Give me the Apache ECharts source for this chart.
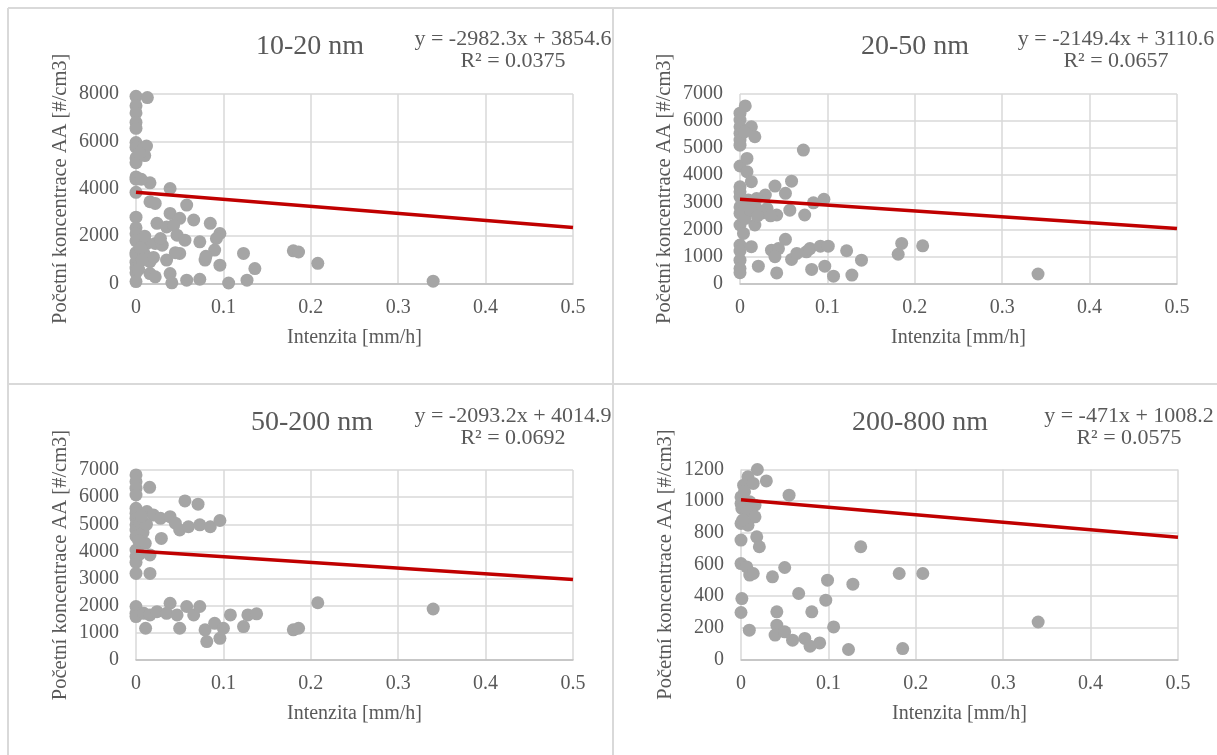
<!DOCTYPE html>
<html>
<head>
<meta charset="utf-8">
<script src="https://cdn.jsdelivr.net/npm/echarts@6/dist/echarts.min.js"></script>
<style>
  html, body { margin: 0; padding: 0; background: #ffffff; }
  #chart { width: 1217px; height: 755px; }
</style>
</head>
<body>
<div id="chart"></div>
<script>
// Rain intensity [mm/h] vs. particle number concentration for four size ranges

const panelTitles = ['10-20 nm', '20-50 nm', '50-200 nm', '200-800 nm'];

// Linear trend coefficients: y = slope * x + intercept
const trendSlope = [-2982.3, -2149.4, -2093.2, -471];
const trendIntercept = [3854.6, 3110.6, 4014.9, 1008.2];
const trendR2 = ['0.0375', '0.0657', '0.0692', '0.0575'];

// Y axis ranges per panel
const yMax = [8000, 7000, 7000, 1200];
const yStep = [2000, 1000, 1000, 200];

const xTicks = [0, 0.1, 0.2, 0.3, 0.4, 0.5];

// 10-20 nm
const x1 = [0, 0, 0, 0, 0, 0, 0, 0, 0, 0, 0, 0, 0, 0, 0, 0, 0, 0, 0, 0, 0, 0,
  0.013, 0.010, 0.008, 0.012, 0.016, 0.006, 0.039, 0.016, 0.022, 0.058, 0.039, 0.050, 0.066,
  0.024, 0.085, 0.035, 0.043, 0.047, 0.056, 0.096, 0.092, 0.073, 0.0125, 0.022, 0.030, 0.050,
  0.090, 0.009, 0.035, 0.079, 0.123, 0.180, 0.186, 0.208, 0.016, 0.096, 0.136, 0.016, 0.022,
  0.039, 0.041, 0.058, 0.073, 0.106, 0.127, 0.340, 0.005, 0.010, 0.020, 0.028, 0.045, 0.080,
  0.004, 0.007, 0.003];
const y1 = [7900, 7500, 7200, 6800, 6550, 5950, 5750, 5300, 5100, 4500, 4400, 3850, 2800, 2350, 2100, 1800, 1300, 1200, 900, 650, 450, 80,
  7850, 5400, 5700, 5800, 4250, 4400, 4010, 3450, 3380, 3310, 2960, 2750, 2680,
  2540, 2540, 2390, 2460, 2040, 1830, 2110, 1900, 1760, 1690, 1690, 1620, 1270,
  1410, 1270, 990, 990, 1270, 1380, 1330, 850, 920, 775, 630, 420, 280,
  420, 30, 140, 180, 20, 140, 100, 1500, 2000, 1100, 1900, 1300, 1150,
  5500, 1000, 600];

// 20-50 nm
const x2 = [0, 0, 0, 0, 0, 0, 0, 0, 0, 0, 0, 0, 0, 0, 0, 0, 0, 0,
  0.006, 0.013, 0.017, 0.0725, 0.008, 0.008, 0.013, 0.040, 0.059, 0.052, 0.029, 0.019, 0.0095,
  0.084, 0.096, 0.019, 0.031, 0.042, 0.057, 0.074, 0.017, 0.004, 0.013, 0.052, 0.036, 0.044,
  0.040, 0.059, 0.065, 0.076, 0.080, 0.092, 0.101, 0.122, 0.139, 0.181, 0.185, 0.209, 0.021,
  0.042, 0.082, 0.097, 0.107, 0.128, 0.341, 0.005, 0.010, 0.025, 0.035, 0.003, 0.006, 0.012, 0.020];
const y2 = [6290, 6040, 5790, 5550, 5300, 5110, 4340, 3570, 3390, 3200, 2830, 2590, 2160, 1420, 1200, 860, 550, 400,
  6560, 5790, 5420, 4930, 4620, 4130, 3760, 3600, 3780, 3330, 3270, 3140, 3080,
  2980, 3110, 2770, 2770, 2530, 2710, 2530, 2160, 1850, 1360, 1630, 1230, 1290,
  990, 890, 1110, 1170, 1290, 1380, 1380, 1210, 860, 1080, 1480, 1390, 640,
  390, 520, 640, 270, 310, 350, 5600, 2900, 2600, 2500, 3000, 2400, 2700, 2500];

// 50-200 nm
const x3 = [0, 0, 0, 0, 0, 0, 0, 0, 0, 0, 0, 0, 0, 0, 0, 0, 0,
  0.0156, 0.056, 0.071, 0.0125, 0.020, 0.028, 0.039, 0.045, 0.050, 0.060, 0.073, 0.085, 0.096,
  0.029, 0.0106, 0.016, 0.016, 0.009, 0.016, 0.024, 0.039, 0.035, 0.047, 0.058, 0.066, 0.073,
  0.011, 0.050, 0.079, 0.090, 0.100, 0.081, 0.096, 0.108, 0.123, 0.128, 0.138, 0.180, 0.186,
  0.208, 0.340, 0.005, 0.008, 0.004, 0.012, 0.006, 0.003];
const y3 = [6820, 6570, 6330, 6080, 5590, 5400, 5220, 4980, 4790, 4550, 4050, 3810, 3600, 3190, 1970, 1720, 1600,
  6360, 5860, 5740, 5470, 5340, 5220, 5280, 5040, 4790, 4910, 4980, 4910, 5140,
  4480, 4300, 3870, 3190, 1720, 1660, 1780, 2090, 1720, 1660, 1970, 1660, 1970,
  1170, 1170, 1110, 1350, 1170, 680, 800, 1660, 1230, 1660, 1700, 1110, 1170,
  2110, 1880, 5100, 4700, 3900, 5000, 5300, 4400];

// 200-800 nm
const x4 = [0.0187, 0.008, 0.003, 0.029, 0.014, 0.055, 0, 0, 0.010, 0.016, 0.001, 0.0065,
  0.016, 0, 0.008, 0, 0.018, 0.021, 0.137, 0, 0.0065, 0.010, 0.014, 0.036, 0.050,
  0.099, 0.128, 0.181, 0.208, 0.066, 0.097, 0.001, 0, 0.041, 0.081, 0.0095, 0.041,
  0.039, 0.050, 0.059, 0.073, 0.079, 0.090, 0.106, 0.123, 0.185, 0.340, 0.004, 0.002];
const y4 = [1200, 1154, 1101, 1128, 1112, 1038, 1027, 985, 996, 975, 954, 933,
  901, 859, 848, 754, 775, 712, 712, 606, 585, 533, 543, 522, 581,
  501, 476, 543, 543, 417, 375, 385, 297, 301, 301, 185, 217,
  154, 175, 122, 133, 84, 105, 206, 63, 69, 237, 1060, 880];

const xs = [x1, x2, x3, x4];
const ys = [y1, y2, y3, y4];

// Plot-area rectangles [left, top, width, height]
const grids = [
  [136, 94, 437, 189.5],
  [740, 94, 437, 189.5],
  [136, 470, 437, 190],
  [741, 469.5, 437, 190]
];
const titlePos = [[310, 47], [915, 47], [312, 423], [920, 423]];
const eqPos = [[513, 28], [1116, 28], [513, 405], [1129, 405]];

const FONT = "'Liberation Serif', 'Times New Roman', serif";
const TXT = '#595959';

const option = {
  backgroundColor: '#ffffff',
  animation: false,
  grid: [],
  xAxis: [],
  yAxis: [],
  series: [],
  graphic: []
};

for (let i = 0; i < 4; i++) {
  const g = grids[i];
  option.grid.push({ left: g[0], top: g[1], width: g[2], height: g[3], containLabel: false });
  option.xAxis.push({
    type: 'value', gridIndex: i, min: xTicks[0], max: xTicks[xTicks.length - 1], interval: 0.1,
    name: 'Intenzita [mm/h]', nameLocation: 'middle', nameGap: 44,
    nameTextStyle: { fontFamily: FONT, fontSize: 20, color: TXT },
    axisLine: { show: true, lineStyle: { color: '#bfbfbf', width: 1.5 } },
    axisTick: { show: false },
    axisLabel: { fontFamily: FONT, fontSize: 20, color: TXT, margin: 14,
      formatter: v => String(Math.round(v * 10) / 10) },
    splitLine: { show: true, lineStyle: { color: '#d9d9d9', width: 1.5 } }
  });
  option.yAxis.push({
    type: 'value', gridIndex: i, min: 0, max: yMax[i], interval: yStep[i],
    name: 'Početní koncentrace AA [#/cm3]', nameLocation: 'middle', nameGap: 65,
    nameTextStyle: { fontFamily: FONT, fontSize: 20.5, color: TXT },
    axisLine: { show: false },
    axisTick: { show: false },
    axisLabel: { fontFamily: FONT, fontSize: 20, color: TXT, margin: 17,
      formatter: v => String(v) },
    splitLine: { show: true, lineStyle: { color: '#d9d9d9', width: 1.5 } }
  });
  option.series.push({
    type: 'scatter', xAxisIndex: i, yAxisIndex: i,
    data: xs[i].map((x, k) => [x, ys[i][k]]),
    symbolSize: 13,
    itemStyle: { color: '#a5a5a5', opacity: 1 },
    z: 2
  });
  const a = trendSlope[i], b = trendIntercept[i];
  const xa = xTicks[0], xb = xTicks[xTicks.length - 1];
  option.series.push({
    type: 'line', xAxisIndex: i, yAxisIndex: i,
    data: [[xa, a * xa + b], [xb, a * xb + b]],
    symbol: 'none',
    lineStyle: { color: '#c00000', width: 3.5 },
    z: 3
  });
  option.graphic.push({
    type: 'text', x: titlePos[i][0], y: titlePos[i][1],
    style: { text: panelTitles[i], fontFamily: FONT, fontSize: 28, fill: TXT,
      align: 'center', verticalAlign: 'middle' }
  });
  const eq = 'y = ' + (a < 0 ? '-' : '') + Math.abs(a) + 'x + ' + b;
  option.graphic.push({
    type: 'text', x: eqPos[i][0], y: eqPos[i][1],
    style: { text: eq + '\nR² = ' + trendR2[i], fontFamily: FONT, fontSize: 22, fill: TXT,
      align: 'center', verticalAlign: 'top', lineHeight: 22 }
  });
}

// Cell borders around the four panels
const border = { stroke: '#d9d9d9', lineWidth: 2 };
[[8, 8, 1217, 8], [8, 384, 1217, 384], [8, 8, 8, 755], [613, 8, 613, 755]].forEach(s => {
  option.graphic.push({ type: 'line', shape: { x1: s[0], y1: s[1], x2: s[2], y2: s[3] }, style: border, silent: true });
});

const chart = echarts.init(document.getElementById('chart'), null, { renderer: 'canvas' });
chart.setOption(option);
</script>
</body>
</html>
